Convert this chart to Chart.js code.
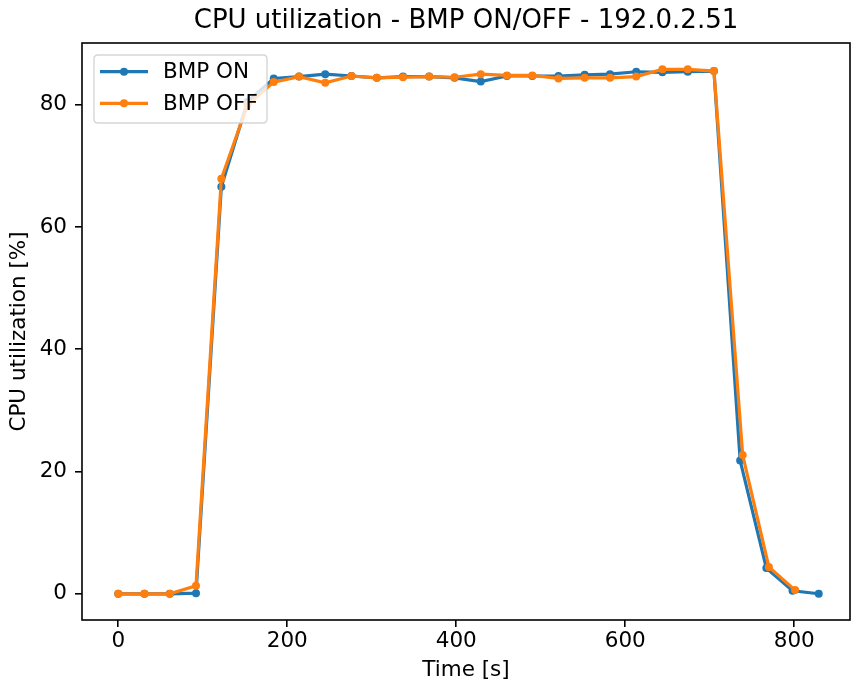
<!DOCTYPE html>
<html>
<head>
<meta charset="utf-8">
<script src="https://cdn.jsdelivr.net/npm/chart.js@4/dist/chart.umd.min.js"></script>
<style>
html,body{margin:0;padding:0;background:#fff;}
#wrap{width:854px;height:683px;position:relative;}
</style>
</head>
<body>
<div id="wrap"><canvas id="c" width="854" height="683"></canvas></div>
<script>
const chartTitle = "CPU utilization - BMP ON/OFF - 192.0.2.51";
const xLabel = "Time [s]";
const yLabel = "CPU utilization [%]";
const seriesNames = ["BMP ON", "BMP OFF"];

const timeOn = [0,31,61,92,122,153,184,214,245,276,306,337,368,398,429,460,490,521,552,582,613,644,674,705,736,767,798,829];
const cpuOn  = [0,0,0,0.1,66.6,80.5,84.3,84.6,85.0,84.7,84.4,84.6,84.6,84.4,83.8,84.7,84.7,84.7,84.9,85.0,85.4,85.3,85.4,85.5,21.8,4.2,0.5,0];

const timeOff = [0,31,61,92,122,153,184,214,245,276,306,337,368,398,429,460,490,521,552,582,613,644,674,705,739,770,801];
const cpuOff  = [0,0,0,1.3,67.9,80.0,83.7,84.6,83.6,84.7,84.4,84.5,84.6,84.5,85.0,84.8,84.8,84.3,84.4,84.4,84.6,85.8,85.8,85.5,22.7,4.4,0.6];

const xTicks = [0,200,400,600,800];
const yTicks = [0,20,40,60,80];

const colors = ["#1f77b4", "#ff7f0e"];
const FONT = "'DejaVu Sans', sans-serif";
const FS = 21.5;

function pts(xs, ys){ return xs.map((x,i)=>({x:x, y:ys[i]})); }

const framePlugin = {
  id:'frame',
  afterDatasetsDraw(chart){
    const {ctx, chartArea:a} = chart;
    ctx.save();
    // legend
    const lx=94, ly=55, lw=173, lh=68, r=4;
    ctx.beginPath();
    ctx.moveTo(lx+r,ly); ctx.lineTo(lx+lw-r,ly); ctx.quadraticCurveTo(lx+lw,ly,lx+lw,ly+r);
    ctx.lineTo(lx+lw,ly+lh-r); ctx.quadraticCurveTo(lx+lw,ly+lh,lx+lw-r,ly+lh);
    ctx.lineTo(lx+r,ly+lh); ctx.quadraticCurveTo(lx,ly+lh,lx,ly+lh-r);
    ctx.lineTo(lx,ly+r); ctx.quadraticCurveTo(lx,ly,lx+r,ly); ctx.closePath();
    ctx.fillStyle='rgba(255,255,255,0.8)'; ctx.fill();
    ctx.strokeStyle='rgba(204,204,204,0.8)'; ctx.lineWidth=1.4; ctx.stroke();
    const rows=[71.7,103.3];
    chart.data.datasets.forEach((ds,i)=>{
      const y=rows[i];
      ctx.strokeStyle=ds.borderColor; ctx.lineWidth=3.2;
      ctx.beginPath(); ctx.moveTo(100,y); ctx.lineTo(148,y); ctx.stroke();
      ctx.fillStyle=ds.borderColor;
      ctx.beginPath(); ctx.arc(124,y,4,0,Math.PI*2); ctx.fill();
      ctx.fillStyle='#000'; ctx.font=FS+'px '+FONT; ctx.textBaseline='middle'; ctx.textAlign='left';
      ctx.fillText(ds.label,163,y+1);
    });
    // frame
    ctx.strokeStyle='#000'; ctx.lineWidth=1.6;
    ctx.strokeRect(a.left, a.top, a.right-a.left, a.bottom-a.top);
    // title centred over the plot area
    ctx.fillStyle='#000'; ctx.font='26px '+FONT; ctx.textAlign='center'; ctx.textBaseline='middle';
    ctx.fillText(chartTitle, (a.left+a.right)/2, 21);
    ctx.restore();
  }
};

new Chart(document.getElementById('c'), {
  type:'line',
  data:{
    datasets:[
      {label:seriesNames[0], data:pts(timeOn,cpuOn), borderColor:colors[0], backgroundColor:colors[0],
       borderWidth:3.2, pointRadius:4, pointBorderWidth:0, pointHoverRadius:4, tension:0, order:1},
      {label:seriesNames[1], data:pts(timeOff,cpuOff), borderColor:colors[1], backgroundColor:colors[1],
       borderWidth:3.2, pointRadius:4, pointBorderWidth:0, pointHoverRadius:4, tension:0, order:0}
    ]
  },
  options:{
    responsive:false, animation:false, devicePixelRatio:1,
    layout:{padding:{left:0,right:2,top:43,bottom:0}},
    plugins:{
      legend:{display:false}, tooltip:{enabled:false}, title:{display:false}
    },
    scales:{
      x:{type:'linear', min:-42.9, max:866,
        afterBuildTicks(s){ s.ticks = xTicks.map(v=>({value:v})); },
        afterFit(s){ s.height=63; },
        grid:{drawOnChartArea:false, drawTicks:true, tickLength:7, color:'#000', lineWidth:1.6},
        border:{display:false},
        ticks:{color:'#000', padding:2, maxRotation:0, font:{family:FONT,size:FS}},
        title:{display:true, text:xLabel, color:'#000', font:{family:FONT,size:FS}, padding:{top:0,bottom:0}}
      },
      y:{type:'linear', min:-4.29, max:90.1,
        afterBuildTicks(s){ s.ticks = yTicks.map(v=>({value:v})); },
        afterFit(s){ s.width=82; },
        grid:{drawOnChartArea:false, drawTicks:true, tickLength:7, color:'#000', lineWidth:1.6},
        border:{display:false},
        ticks:{color:'#000', padding:8, font:{family:FONT,size:FS}},
        title:{display:true, text:yLabel, color:'#000', font:{family:FONT,size:FS}, padding:{top:7,bottom:0}}
      }
    }
  },
  plugins:[framePlugin]
});
</script>
</body>
</html>
